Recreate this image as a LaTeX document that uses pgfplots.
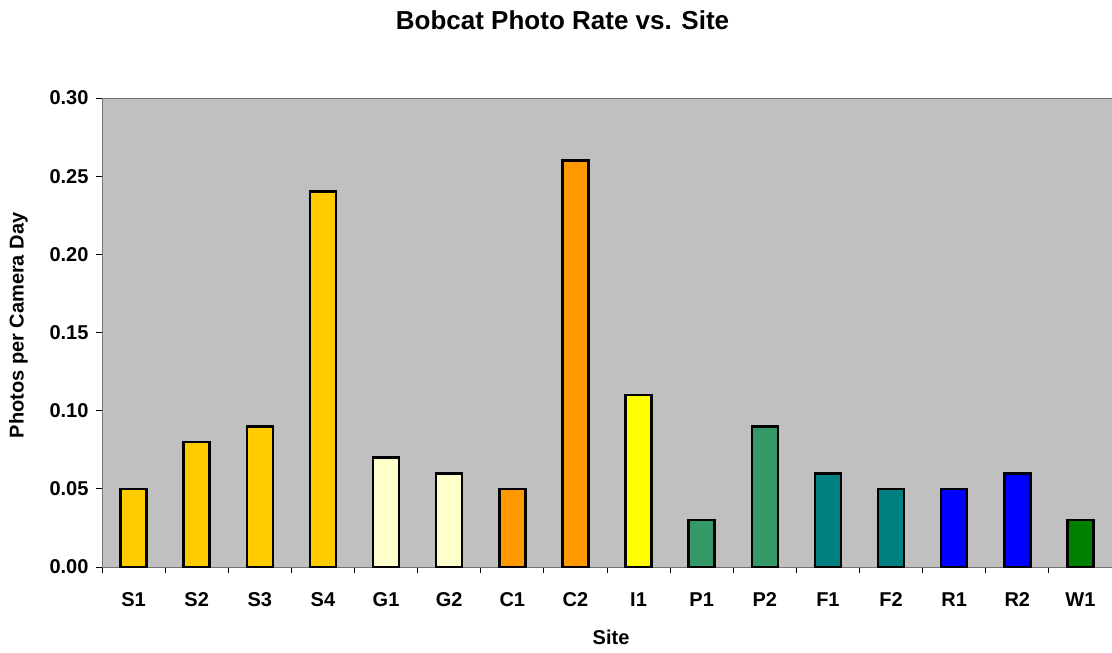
\documentclass[border=0pt]{standalone}
\usepackage{fontspec}
\setmainfont{Liberation Sans}
\usepackage{pgfplots}
\pgfplotsset{compat=1.18}

\definecolor{sgold}{HTML}{FFCC00}
\definecolor{gpale}{HTML}{FFFFCC}
\definecolor{corange}{HTML}{FF9900}
\definecolor{iyellow}{HTML}{FFFF00}
\definecolor{pgreen}{HTML}{339966}
\definecolor{fteal}{HTML}{008080}
\definecolor{rblue}{HTML}{0000FF}
\definecolor{wgreen}{HTML}{008000}
\definecolor{plotbg}{HTML}{C0C0C0}

\begin{document}
\begin{tikzpicture}
\begin{axis}[
    name=ax,
    scale only axis,
    width=1010pt, height=469pt,
    xmin=-0.5, xmax=15.5,
    ymin=0, ymax=0.30,
    ybar, bar width=26pt, bar shift=0pt,
    axis background/.style={fill=plotbg},
    axis line style={draw=black!55, line width=0.8pt},
    xtick pos=bottom, ytick pos=left,
    xtick={0,...,15},
    xticklabels={S1,S2,S3,S4,G1,G2,C1,C2,I1,P1,P2,F1,F2,R1,R2,W1},
    major x tick style={draw=none},
    minor xtick={-0.5,0.5,...,15.5},
    minor x tick style={draw=black, line width=0.8pt},
    minor tick length=6pt,
    ytick={0,0.05,...,0.30},
    y tick style={draw=black, line width=0.8pt},
    major tick length=6pt,
    tick align=outside,
    y tick label style={/pgf/number format/fixed, /pgf/number format/fixed zerofill, /pgf/number format/precision=2, xshift=-4pt},
    /pgf/number format/assume math mode=true,
    tick label style={font=\fontsize{20}{24}\selectfont\bfseries},
    xticklabel style={yshift=-16pt},
    xlabel={Site},
    ylabel={Photos per Camera Day},
    label style={font=\fontsize{20}{24}\selectfont\bfseries},
    xlabel style={at={(axis description cs:0.504,-0.149)}, anchor=center},
    ylabel style={at={(axis description cs:-0.0827,0.515)}, anchor=center},
    title={Bobcat Photo Rate vs. Site},
    title style={font=\fontsize{26}{30}\selectfont\bfseries, at={(axis description cs:0.456,1.153)}, anchor=center},
    barsty/.style={draw=black, line width=2.6pt},
]
\addplot[barsty, fill=sgold] coordinates {(0,0.05) (1,0.08) (2,0.09) (3,0.24)};
\addplot[barsty, fill=gpale] coordinates {(4,0.07) (5,0.06)};
\addplot[barsty, fill=corange] coordinates {(6,0.05) (7,0.26)};
\addplot[barsty, fill=iyellow] coordinates {(8,0.11)};
\addplot[barsty, fill=pgreen] coordinates {(9,0.03) (10,0.09)};
\addplot[barsty, fill=fteal] coordinates {(11,0.06) (12,0.05)};
\addplot[barsty, fill=rblue] coordinates {(13,0.05) (14,0.06)};
\addplot[barsty, fill=wgreen] coordinates {(15,0.03)};
\end{axis}
\pgfresetboundingbox
\path ([shift={(-102pt,-85pt)}]ax.south west) rectangle ([shift={(0pt,98pt)}]ax.north east);
\end{tikzpicture}
\end{document}
